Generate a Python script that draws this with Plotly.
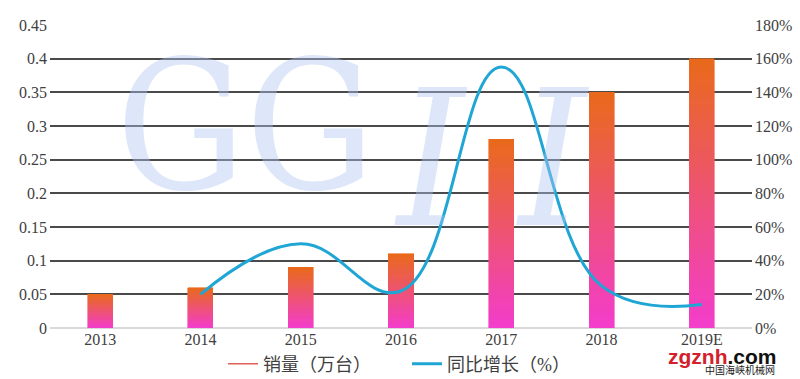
import plotly.graph_objects as go

years = ["2013", "2014", "2015", "2016", "2017", "2018", "2019E"]
sales = [0.05, 0.06, 0.09, 0.11, 0.28, 0.35, 0.40]          # 销量（万台）
growth_years = ["2014", "2015", "2016", "2017", "2018", "2019E"]
growth = [20, 50, 22, 155, 25, 14]                          # 同比增长（%）

left_ticks = [0, 0.05, 0.1, 0.15, 0.2, 0.25, 0.3, 0.35, 0.4, 0.45]
left_ticktext = ["0", "0.05", "0.1", "0.15", "0.2", "0.25", "0.3", "0.35", "0.4", "0.45"]
right_ticks = [0, 20, 40, 60, 80, 100, 120, 140, 160, 180]
right_ticktext = ["0%", "20%", "40%", "60%", "80%", "100%", "120%", "140%", "160%", "180%"]

BOTTOM = (243, 60, 205)
TOP = (233, 106, 26)
N = 40

def mix(t):
    return "rgb(%d,%d,%d)" % tuple(round(BOTTOM[i] + (TOP[i] - BOTTOM[i]) * t) for i in range(3))

SERIF = "Liberation Serif"
L, R, T, B = 50, 48, 25, 51
PW = 800 - L - R
PH = 379 - T - B

def px_x(x):
    return (x - L) / PW

def px_y(y):
    return 1 - (y - T) / PH

fig = go.Figure()
for k in range(N):
    c = mix((k + 0.5) / N)
    fig.add_trace(go.Bar(
        x=years, y=[v / N for v in sales], width=0.25,
        marker=dict(color=c, line=dict(color=c, width=0.6)),
        showlegend=False, hoverinfo="skip",
    ))

fig.add_trace(go.Scatter(
    x=[None], y=[None], mode="lines", name="销量（万台）",
    line=dict(color="#e0605c", width=1.5),
))
fig.add_trace(go.Scatter(
    x=growth_years, y=growth, mode="lines", name="同比增长（%）",
    line=dict(color="#1fa6d5", width=3, shape="spline", smoothing=1.2),
    yaxis="y2",
))

WM = "rgba(175,198,240,0.42)"

fig.update_layout(
    template="none",
    width=800, height=379,
    margin=dict(l=L, r=R, t=T, b=B, autoexpand=False),
    paper_bgcolor="white", plot_bgcolor="white",
    barmode="stack", bargap=0.75,
    font=dict(family=SERIF, size=16, color="#404040"),
    xaxis=dict(type="category", showgrid=False, showline=False, ticks="", automargin=False,
               tickfont=dict(family=SERIF, size=16, color="#404040")),
    yaxis=dict(range=[0, 0.45], tickvals=left_ticks, ticktext=left_ticktext, automargin=False,
               showgrid=True, gridcolor="#4a4a4a", gridwidth=1.5,
               zeroline=True, zerolinecolor="#d9d9d9", zerolinewidth=1.5,
               showline=False, ticks="", ticklabelstandoff=2,
               tickfont=dict(family=SERIF, size=16, color="#404040")),
    yaxis2=dict(range=[0, 180], tickvals=right_ticks, ticktext=right_ticktext, automargin=False,
                overlaying="y", side="right", showgrid=False, zeroline=False,
                showline=False, ticks="", ticklabelstandoff=2,
                tickfont=dict(family=SERIF, size=16, color="#404040")),
    legend=dict(orientation="h", traceorder="normal", x=px_x(223), xanchor="left",
                y=px_y(364), yanchor="middle", entrywidth=139, entrywidthmode="pixels",
                font=dict(family=SERIF + ", Noto Sans CJK SC", size=18, color="#404040"),
                bgcolor="rgba(0,0,0,0)"),
    annotations=[
        dict(text="GG", xref="paper", yref="paper", x=px_x(245), y=px_y(125),
             xanchor="center", yanchor="middle",
             showarrow=False, font=dict(family="DejaVu Serif Condensed", size=180, color=WM)),
        dict(text="<i>I I</i>", xref="paper", yref="paper", x=px_x(492), y=px_y(160),
             xanchor="center", yanchor="middle",
             showarrow=False, font=dict(family="DejaVu Serif Condensed", size=190, color=WM)),
        dict(text="<b><span style='color:#d3202a'>zgznh</span><span style='color:#111111'>.com</span></b>",
             xref="paper", yref="paper", x=px_x(722), y=px_y(356),
             xanchor="center", yanchor="middle",
             showarrow=False, font=dict(family="Liberation Sans", size=21)),
        dict(text="中国海峡机械网", xref="paper", yref="paper",
             x=px_x(740), y=px_y(370), xanchor="center", yanchor="middle", showarrow=False,
             font=dict(family="Noto Sans CJK SC", size=10, color="#222222")),
    ],
)

fig.write_html("out.html", config={"displayModeBar": False},
               post_script="document.body.style.margin='0';")
